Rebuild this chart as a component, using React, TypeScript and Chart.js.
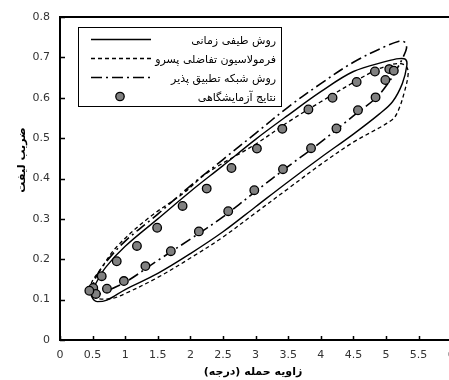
import React, { useEffect, useRef } from "react";
import { Chart, registerables } from "chart.js";

Chart.register(...registerables);

// Axis ticks
const xTicks = [0, 0.5, 1, 1.5, 2, 2.5, 3, 3.5, 4, 4.5, 5, 5.5, 6];
const yTicks = [0, 0.1, 0.2, 0.3, 0.4, 0.5, 0.6, 0.7, 0.8];

// Titles and legend labels
const xTitle = "زاویه حمله (درجه)";
const yTitle = "ضریب لیفت";
const labelSpectral = "روش طیفی زمانی";
const labelBackward = "فرمولاسیون تفاضلی پسرو";
const labelAdaptive = "روش شبکه تطبیق پذیر";
const labelExperiment = "نتایج آزمایشگاهی";

// Experimental data (angle of attack, lift coefficient)
const expAlpha = [
  0.51, 0.64, 0.87, 1.18, 1.49, 1.88, 2.25, 2.63, 3.02, 3.41, 3.81, 4.18, 4.55, 4.83, 5.05, 5.12,
  4.99, 4.84, 4.57, 4.24, 3.85, 3.42, 2.98, 2.58, 2.13, 1.7, 1.31, 0.98, 0.72, 0.55, 0.45,
];
const expCl = [
  0.129, 0.158, 0.195, 0.233, 0.278, 0.332, 0.375, 0.426, 0.474, 0.523, 0.571, 0.6, 0.639, 0.665, 0.671, 0.667,
  0.644, 0.601, 0.569, 0.524, 0.475, 0.423, 0.371, 0.319, 0.269, 0.22, 0.183, 0.146, 0.127, 0.114, 0.122,
];

// Time spectral method loop
const spectralAlpha = [
  0.475, 0.52, 0.57, 0.72, 1.0, 1.5, 2.0, 2.5, 3.0, 3.5, 4.0, 4.5, 4.9, 5.1, 5.25, 5.32,
  5.3, 5.2, 5.0, 4.5, 4.0, 3.5, 3.0, 2.5, 2.0, 1.5, 1.0, 0.7, 0.55, 0.475,
];
const spectralCl = [
  0.111, 0.099, 0.095, 0.099, 0.125, 0.165, 0.214, 0.268, 0.33, 0.392, 0.452, 0.51, 0.56, 0.59, 0.635, 0.68,
  0.695, 0.697, 0.69, 0.665, 0.615, 0.557, 0.497, 0.432, 0.368, 0.3, 0.232, 0.18, 0.14, 0.111,
];

// Backward difference formulation loop
const backwardAlpha = [
  0.46, 0.52, 0.6, 0.8, 1.0, 1.5, 2.0, 2.5, 3.0, 3.5, 4.0, 4.5, 5.09, 5.19, 5.29, 5.34,
  5.31, 5.2, 5.0, 4.8, 4.5, 4.0, 3.5, 3.0, 2.25, 1.89, 1.38, 0.87, 0.6, 0.49, 0.46,
];
const backwardCl = [
  0.125, 0.108, 0.102, 0.103, 0.115, 0.155, 0.203, 0.255, 0.315, 0.375, 0.435, 0.49, 0.545, 0.569, 0.619, 0.66,
  0.678, 0.685, 0.678, 0.665, 0.638, 0.59, 0.54, 0.485, 0.413, 0.363, 0.305, 0.231, 0.17, 0.144, 0.125,
];

// Adaptive grid method loop
const adaptiveAlpha = [
  0.47, 0.55, 0.72, 1.0, 1.5, 2.0, 2.5, 3.0, 3.5, 4.0, 4.5, 4.85, 5.05, 5.18, 5.27, 5.315,
  5.3, 5.26, 5.2, 5.0, 4.5, 4.0, 3.5, 3.0, 2.5, 2.0, 1.5, 1.0, 0.7, 0.55, 0.47,
];
const adaptiveCl = [
  0.118, 0.112, 0.122, 0.143, 0.197, 0.25, 0.305, 0.368, 0.43, 0.49, 0.555, 0.6, 0.64, 0.675, 0.703, 0.723,
  0.735, 0.74, 0.74, 0.728, 0.688, 0.635, 0.577, 0.512, 0.447, 0.382, 0.312, 0.245, 0.192, 0.155, 0.118,
];

const SOLID: number[] = [];
const SHORT_DASH = [4, 3];
const DASH_DOT = [11, 4, 2, 4];
const ARABIC_FONT = '"DejaVu Sans", sans-serif';

const toPoints = (xs: number[], ys: number[]) => xs.map((x, i) => ({ x, y: ys[i] }));

const fmt = (v: number) => String(Number(v.toFixed(2)));

const framePlugin = {
  id: "frameAndLegend",
  afterDraw(chart: any) {
    const ctx: CanvasRenderingContext2D = chart.ctx;
    const { left, right, top, bottom } = chart.chartArea;
    const xs = chart.scales.x;
    const ys = chart.scales.y;
    ctx.save();

    // inward tick marks
    ctx.strokeStyle = "#000";
    ctx.lineWidth = 1.5;
    ctx.beginPath();
    xTicks.forEach((v) => {
      const px = Math.round(xs.getPixelForValue(v)) + 0.5;
      ctx.moveTo(px, bottom);
      ctx.lineTo(px, bottom - 4);
    });
    yTicks.forEach((v) => {
      const py = Math.round(ys.getPixelForValue(v)) + 0.5;
      ctx.moveTo(left, py);
      ctx.lineTo(left + 5, py);
    });
    ctx.stroke();

    // plot frame
    ctx.lineWidth = 2;
    ctx.strokeRect(left, top, right - left, bottom - top);

    // legend box
    const bx = 78.5, by = 27.5, bw = 203, bh = 79;
    ctx.fillStyle = "#fff";
    ctx.fillRect(bx, by, bw, bh);
    ctx.lineWidth = 1;
    ctx.strokeRect(bx, by, bw, bh);

    const rows = [
      { dash: SOLID, y: 39.5 },
      { dash: SHORT_DASH, y: 58.5 },
      { dash: DASH_DOT, y: 77.5 },
    ];
    rows.forEach((r) => {
      ctx.setLineDash(r.dash);
      ctx.lineWidth = 1.5;
      ctx.beginPath();
      ctx.moveTo(91, r.y);
      ctx.lineTo(151, r.y);
      ctx.stroke();
    });
    ctx.setLineDash([]);
    ctx.beginPath();
    ctx.arc(120, 96.5, 4.2, 0, Math.PI * 2);
    ctx.fillStyle = "#808080";
    ctx.fill();
    ctx.lineWidth = 1.3;
    ctx.stroke();

    ctx.fillStyle = "#000";
    ctx.font = `11px ${ARABIC_FONT}`;
    ctx.textAlign = "right";
    ctx.textBaseline = "middle";
    [labelSpectral, labelBackward, labelAdaptive, labelExperiment].forEach((t, i) => {
      ctx.fillText(t, 276, 41 + i * 19);
    });

    // axis titles
    ctx.font = `bold 11px ${ARABIC_FONT}`;
    ctx.textAlign = "center";
    ctx.fillText(xTitle, 253, 372);
    ctx.save();
    ctx.translate(22, 160);
    ctx.rotate(-Math.PI / 2);
    ctx.fillText(yTitle, 0, 0);
    ctx.restore();

    ctx.restore();
  },
};

export default function App() {
  const ref = useRef<HTMLCanvasElement>(null);

  useEffect(() => {
    const canvas = ref.current;
    if (!canvas) return;
    const lineDs = (label: string, xs: number[], ys: number[], dash: number[], width: number) => ({
      label,
      data: toPoints(xs, ys),
      showLine: true,
      borderColor: "#000",
      borderWidth: width,
      borderDash: dash,
      backgroundColor: "transparent",
      pointRadius: 0,
      tension: 0.35,
      fill: false,
    });
    const chart = new Chart(canvas, {
      type: "scatter",
      data: {
        datasets: [
          {
            label: labelExperiment,
            data: toPoints(expAlpha, expCl),
            pointRadius: 4.3,
            pointBackgroundColor: "#808080",
            pointBorderColor: "#000",
            pointBorderWidth: 1.3,
            showLine: false,
          },
          lineDs(labelSpectral, spectralAlpha, spectralCl, SOLID, 1.4),
          lineDs(labelBackward, backwardAlpha, backwardCl, SHORT_DASH, 1.3),
          lineDs(labelAdaptive, adaptiveAlpha, adaptiveCl, DASH_DOT, 1.6),
        ] as any,
      },
      options: {
        responsive: false,
        devicePixelRatio: 1,
        animation: false,
        events: [],
        layout: { padding: { left: 0, top: 17, right: 18.8, bottom: 0 } },
        plugins: { legend: { display: false }, tooltip: { enabled: false }, title: { display: false } },
        scales: {
          x: {
            type: "linear",
            min: 0,
            max: 6,
            afterBuildTicks: (s: any) => {
              s.ticks = xTicks.map((value) => ({ value }));
            },
            afterFit: (s: any) => {
              s.height = 40;
            },
            grid: { display: false, drawTicks: false },
            border: { display: false },
            ticks: {
              autoSkip: false,
              maxRotation: 0,
              padding: 9,
              color: "#333",
              font: { family: "DejaVu Sans", size: 11 },
              callback: (v: any) => fmt(Number(v)),
            },
          },
          y: {
            type: "linear",
            min: 0,
            max: 0.8,
            afterBuildTicks: (s: any) => {
              s.ticks = yTicks.map((value) => ({ value }));
            },
            afterFit: (s: any) => {
              s.width = 60;
            },
            grid: { display: false, drawTicks: false },
            border: { display: false },
            ticks: {
              padding: 10,
              color: "#333",
              font: { family: "DejaVu Sans", size: 11 },
              callback: (v: any) => fmt(Number(v)),
            },
          },
        },
      } as any,
      plugins: [framePlugin],
    });
    return () => chart.destroy();
  }, []);

  return (
    <div
      style={{
        position: "fixed",
        left: 0,
        top: 0,
        width: 449,
        height: 380,
        overflow: "hidden",
        background: "#fff",
      }}
    >
      <canvas ref={ref} width={470} height={380} style={{ display: "block", width: 470, height: 380 }} />
    </div>
  );
}
